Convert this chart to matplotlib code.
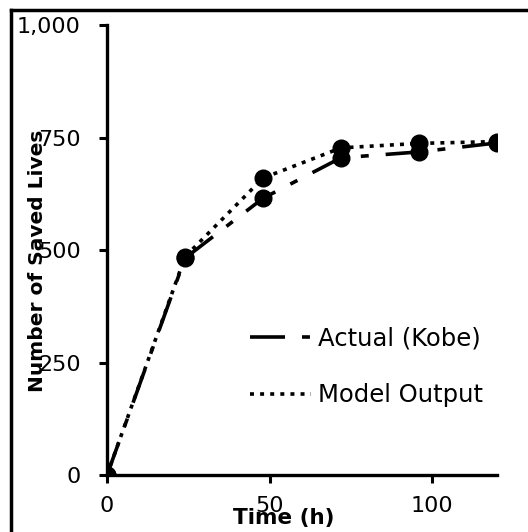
import matplotlib
matplotlib.use("Agg")
import matplotlib.pyplot as plt
from matplotlib.lines import Line2D

plt.rcParams['font.family'] = ['DejaVu Sans']

hours = [0, 24, 48, 72, 96, 120]
actual_kobe = [0, 482, 615, 705, 718, 738]
model_output = [0, 485, 660, 727, 737, 741]

y_ticks = [0, 250, 500, 750, 1000]
y_tick_labels = ["0", "250", "500", "750", "1,000"]
x_ticks = [0, 50, 100]

LW = 2.6
DASH_ACTUAL = (9.7, 4.7, 2.2, 4.7)
DOTS_MODEL = (1.1, 1.7)

fig = plt.figure(figsize=(5.28, 5.32), dpi=100)
ax = fig.add_axes([0.2027, 0.107, 0.7386, 0.846])

ax.plot(hours, actual_kobe, color="black", lw=LW, dashes=DASH_ACTUAL,
        marker="o", ms=12, label="Actual (Kobe)")
ax.plot(hours, model_output, color="black", lw=LW, dashes=DOTS_MODEL,
        marker="o", ms=12, label="Model Output")

ax.set_xlim(0, 120)
ax.set_ylim(0, 1000)
ax.set_xticks(x_ticks)
ax.set_yticks(y_ticks)
ax.set_yticklabels(y_tick_labels)
ax.tick_params(labelsize=16, width=2.2, length=6, direction="out")
ax.tick_params(axis="y", pad=13)
ax.tick_params(axis="x", pad=9)

for s in ["top", "right"]:
    ax.spines[s].set_visible(False)
for s in ["left", "bottom"]:
    ax.spines[s].set_linewidth(2.4)

ax.set_xlabel("Time (h)", fontsize=15.5, fontweight="bold")
ax.xaxis.set_label_coords(0.454, -0.074)
ax.set_ylabel("Number of Saved Lives", fontsize=14.5, fontweight="bold")
ax.yaxis.set_label_coords(-0.155, 0.475)

# legend without markers
handles = [Line2D([], [], color="black", lw=LW, dashes=DASH_ACTUAL),
           Line2D([], [], color="black", lw=LW, dashes=DOTS_MODEL)]
ax.legend(handles, ["Actual (Kobe)", "Model Output"], frameon=False,
          fontsize=17.5, loc="center left", bbox_to_anchor=(0.31, 0.24),
          labelspacing=1.35, handlelength=2.5, handletextpad=0.3)

# outer frame (top and left edges)
fig.add_artist(Line2D([0.02, 1.0], [0.981, 0.981], color="black", lw=2.5))
fig.add_artist(Line2D([0.021, 0.021], [0.0, 0.981], color="black", lw=2.5))

fig.savefig("out.png", dpi=100)
